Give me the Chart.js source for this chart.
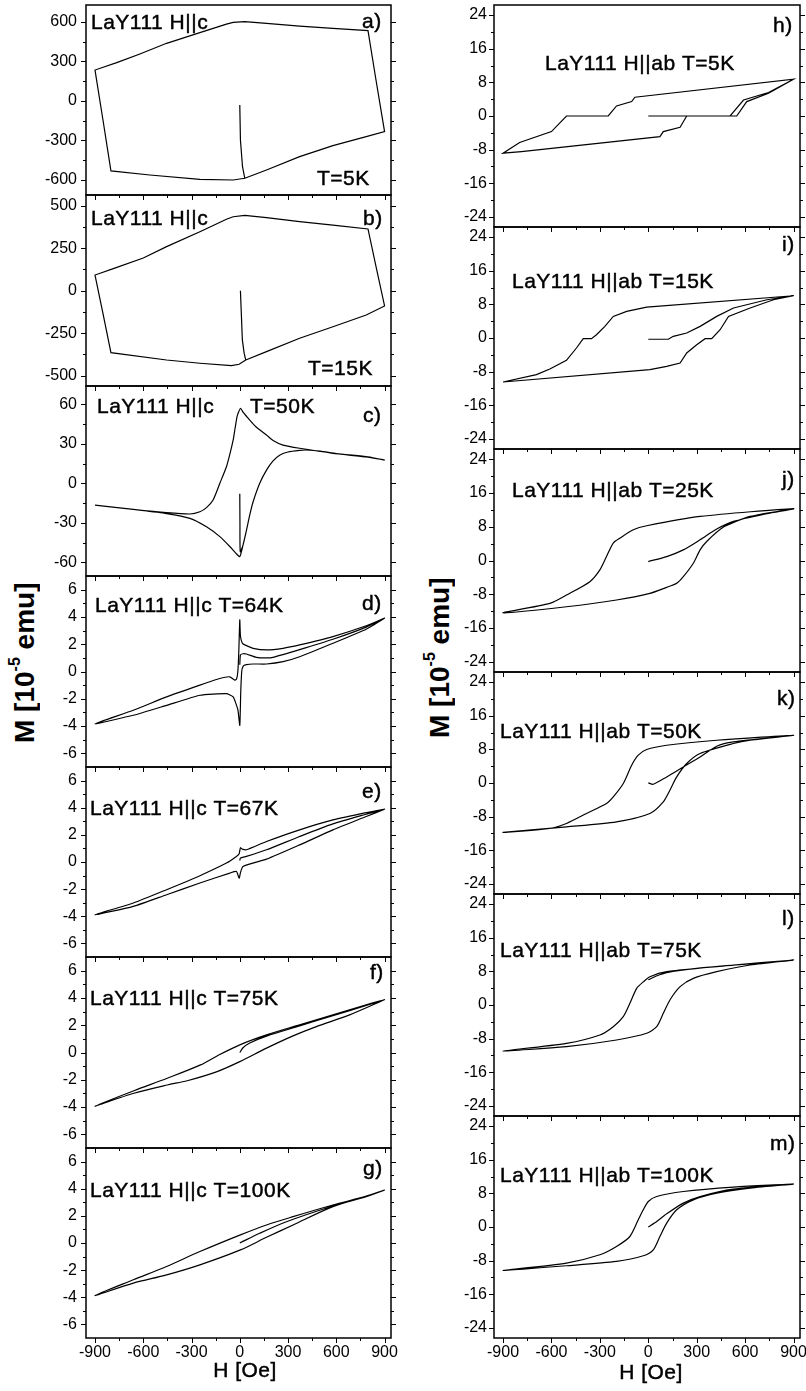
<!DOCTYPE html>
<html lang="en">
<head>
<meta charset="utf-8">
<title>LaY111 magnetization loops</title>
<script src="https://cdn.jsdelivr.net/npm/chart.js@4.4.1/dist/chart.umd.min.js"></script>
<style>
  html, body { margin: 0; padding: 0; background: #fff; }
  #page { position: relative; width: 806px; height: 1391px; overflow: hidden; background: #fff; }
  .panel { position: absolute; }
  .ytitle {
    position: absolute; height: 200px;
    writing-mode: vertical-rl; transform: rotate(180deg);
    font: bold 28px "Liberation Sans", Arial, sans-serif; line-height: 28px; color: #000;
    text-align: center; white-space: nowrap;
  }
  .ytitle sup { font-size: 16px; line-height: 0; }
</style>
</head>
<body>
<div id="page">
  <div class="ytitle" style="left: 11px; top: 563px;">M [10<sup>-5</sup> emu]</div>
  <div class="ytitle" style="left: 426px; top: 558px;">M [10<sup>-5</sup> emu]</div>
</div>
<script>
// tick values
const xMajor = [-900, -600, -300, 0, 300, 600, 900];
const xMinor = [-750, -450, -150, 150, 450, 750];
const yMajorA = [-600, -300, 0, 300, 600];
const yMinorA = [-450, -150, 150, 450];
const yMajorB = [-500, -250, 0, 250, 500];
const yMinorB = [-375, -125, 125, 375];
const yMajorC = [-60, -30, 0, 30, 60];
const yMinorC = [-45, -15, 15, 45];
const yMajorSmall = [-6, -4, -2, 0, 2, 4, 6];
const yMinorSmall = [-5, -3, -1, 1, 3, 5];
const yMajorAb = [-24, -16, -8, 0, 8, 16, 24];
const yMinorAb = [-20, -12, -4, 4, 12, 20];

// H||c loops (H in Oe, M in 1e-5 emu), each path: virgin, down branch, up branch
const fieldA = [0, 4, 17, 31, 166, 372, 579, 786, 900, 848, 797, 579, 372, 166, 31, -41, -83, -248, -455, -621, -765, -900, -850, -801, -559, -248, -41, 31];
const momentA = [-30, -296, -499, -587, -524, -423, -339, -271, -233, 150, 534, 552, 569, 590, 602, 597, 584, 519, 438, 357, 291, 235, -148, -531, -562, -595, -600, -587];

const fieldB = [4, 16, 27, 37, 166, 372, 579, 786, 900, 848, 797, 579, 372, 166, 31, -41, -83, -248, -455, -600, -786, -900, -850, -801, -455, -248, -52, -4, 37];
const momentB = [0, -290, -368, -408, -359, -280, -212, -143, -90, 137, 363, 386, 406, 430, 443, 435, 420, 347, 259, 192, 130, 92, -137, -365, -408, -427, -441, -433, -408];

const fieldC = [0, 1, 3, 20, 41, 62, 83, 124, 166, 207, 250, 300, 372, 414, 500, 600, 786, 900,
  786, 579, 372, 269, 207, 166, 100, 62, 20, 5, -8, -17, -29, -41, -62, -83, -124, -166, -207, -248, -310, -455, -662, -900,
  -662, -455, -310, -207, -124, -62, -25, 0, 20, 41, 62, 83, 124, 166, 207, 250, 300, 372, 414, 500, 600, 786, 900];
const momentC = [-8, -30, -52, -47, -36, -24, -14, 0, 10, 17, 21.5, 23.8, 25, 25.3, 24.5, 22.5, 20, 17.7,
  20.2, 22.8, 26.6, 29, 32.5, 36.7, 43, 48, 54, 57, 54, 50.6, 42, 32.9, 22, 12.6, 0, -12.7, -18.5, -21.6, -23.3, -22.3, -19.8, -16.5,
  -19.9, -23, -26.6, -33, -40.5, -48, -53, -55.7, -47, -36, -24, -14, 0, 10, 17, 21.5, 23.8, 25, 25.3, 24.5, 22.5, 20, 17.7];

const fieldD = [0, 4, 20, 41, 103, 166, 207, 372, 579, 786, 900,
  786, 579, 372, 269, 166, 83, 31, 16, 4, 0, -6, -12, -20, -31, -62, -124, -248, -455, -662, -900,
  -662, -455, -248, -83, -41, -12, 0, 6, 12, 21, 41, 83, 166, 269, 372, 579, 786, 900];
const momentD = [0.5, 1.21, 1.3, 1.28, 1.04, 1.0, 1.04, 1.6, 2.36, 3.25, 3.91,
  3.35, 2.56, 1.95, 1.7, 1.58, 1.7, 1.95, 2.07, 2.6, 3.79, 1.5, 0, -0.55, -0.63, -0.39, -0.51, -1.0, -1.86, -2.84, -3.83,
  -3.21, -2.48, -1.74, -1.62, -1.86, -2.8, -3.95, -1.5, 0, 0.4, 0.5, 0.55, 0.55, 0.72, 1.08, 2.07, 3.1, 3.91];

const fieldE = [0, 4, 41, 166, 372, 579, 786, 900,
  786, 579, 372, 166, 41, 15, 4, -4, -21, -83, -248, -455, -662, -900,
  -662, -455, -248, -62, -21, -4, 4, 20, 166, 372, 579, 786, 900];
const momentE = [0.1, 0.29, 0.41, 0.9, 1.88, 2.81, 3.52, 3.89,
  3.64, 3.1, 2.37, 1.51, 0.9, 0.95, 1.05, 0.6, 0.41, -0.08, -1.01, -2.04, -3.02, -3.88,
  -3.27, -2.41, -1.55, -0.82, -0.7, -1.19, -0.8, -0.33, 0.21, 1.26, 2.37, 3.35, 3.89];

const fieldF = [0, 20, 62, 166, 372, 579, 786, 900,
  786, 579, 372, 166, 0, -141, -244, -451, -658, -900,
  -658, -451, -327, -141, 0, 166, 331, 476, 683, 900];
const momentF = [0, 0.35, 0.7, 1.2, 1.95, 2.7, 3.45, 3.87,
  3.5, 2.76, 2.03, 1.29, 0.56, -0.25, -0.91, -1.89, -2.8, -3.93,
  -2.99, -2.38, -2.07, -1.4, -0.67, 0.32, 1.22, 1.9, 2.76, 3.87];

const fieldG = [0, 124, 290, 579, 786, 900,
  786, 579, 331, 166, 4, -248, -455, -662, -900,
  -662, -455, -248, 4, 166, 331, 579, 786, 900];
const momentG = [0, 0.72, 1.57, 2.73, 3.42, 3.9,
  3.45, 2.8, 1.94, 1.33, 0.6, -0.63, -1.73, -2.71, -3.87,
  -2.96, -2.35, -1.61, -0.51, 0.42, 1.33, 2.68, 3.41, 3.9];

// H||ab loops
const fieldH = [0, 507, 590, 745, 900,
  -83, -103, -197, -248, -507, -600, -797, -900,
  -786, 72, 93, 197, 238, 548, 610, 745, 900];
const momentH = [0, 0, 3.8, 5.6, 8.74,
  4.46, 3.43, 2.4, 0, 0, -3.7, -6.31, -8.85,
  -8.45, -4.89, -3.7, -2.67, 0, 0, 3.43, 5.41, 8.74];

const fieldI = [0, 124, 155, 238, 321, 424, 528, 735, 900,
  -10, -134, -217, -269, -321, -352, -403, -445, -507, -610, -693, -900,
  10, 114, 197, 238, 300, 352, 393, 445, 497, 631, 776, 900];
const momentI = [-0.3, -0.3, 0.4, 1.19, 2.77, 5.14, 7.13, 9.1, 10.05,
  7.36, 6.33, 5.14, 2.77, 0.79, -0.16, -0.16, -2.38, -5.31, -7.37, -8.72, -10.46,
  -7.53, -6.74, -5.94, -3.57, -1.59, -0.16, -0.16, 1.97, 5.14, 7.13, 9.1, 10.05];

const fieldJ = [0, 114, 217, 321, 424, 528, 735, 900,
  321, -10, -93, -176, -217, -259, -300, -362, -507, -610, -900,
  -507, -197, 10, 114, 176, 217, 279, 321, 362, 466, 631, 900];
const momentJ = [-0.25, 0.93, 2.52, 4.9, 7.44, 9.25, 11.07, 12.26,
  10.43, 8.22, 7.27, 5.29, 4.11, 0.93, -2.23, -5.01, -8.17, -10.15, -12.38,
  -10.95, -9.36, -7.78, -6.35, -5.4, -3.82, -0.65, 2.52, 4.5, 7.91, 10.43, 12.26];

const fieldK = [0, 31, 114, 217, 321, 424, 528, 900,
  424, 114, -10, -62, -103, -155, -217, -259, -383, -507, -610, -900,
  -507, -197, 10, 93, 134, 176, 238, 321, 528, 631, 900];
const momentK = [0.03, -0.3, 1.45, 3.83, 6.2, 8.75, 9.77, 11.36,
  10.17, 8.98, 7.96, 6.61, 4.23, -0.12, -3.3, -4.87, -7.25, -9.62, -10.81, -11.76,
  -10.43, -9.24, -7.25, -4.49, -1.71, 1.45, 4.63, 7.01, 9.39, 10.17, 11.36];

const fieldL = [0, 50, 114, 300, 528, 900,
  528, 114, 10, -31, -72, -114, -155, -217, -300, -507, -900,
  -507, -197, -10, 52, 93, 134, 197, 279, 424, 631, 900];
const momentL = [6.0, 6.9, 7.7, 8.7, 9.45, 10.69,
  9.51, 7.92, 6.73, 5.5, 3.96, 0.4, -2.77, -5.15, -7.13, -9.11, -10.93,
  -9.9, -8.32, -6.73, -5.15, -1.98, 1.19, 4.36, 6.34, 7.92, 9.51, 10.69];

const fieldM = [0, 52, 114, 217, 321, 528, 900,
  528, 217, 52, 0, -31, -62, -114, -197, -300, -507, -900,
  -507, -197, -31, 31, 72, 114, 176, 279, 424, 631, 900];
const momentM = [0, 1.31, 3.14, 5.68, 7.25, 9.0, 10.19,
  9.48, 8.44, 7.25, 6.06, 4.09, 1.71, -2.26, -4.63, -6.61, -8.59, -10.33,
  -9.22, -8.19, -6.84, -5.42, -2.26, 0.92, 4.09, 6.46, 8.05, 9.24, 10.19];

const columns = [
    { canvasLeft: 0, width: 400, axisWidth: 86, padRight: 9, tickPad: 9 },
    { canvasLeft: 400, width: 406, axisWidth: 94, padRight: 6, tickPad: 7 }
];

const panels = [
    { col: 0, top: 5, bottom: 195, field: fieldA, moment: momentA, yMin: -714, yMax: 729, yMajor: yMajorA, yMinor: yMinorA, tension: 0,
      texts: [["LaY111 H||c", 91, 29], ["a)", 362, 28], ["T=5K", 317, 185]] },
    { col: 0, top: 195, bottom: 386, field: fieldB, moment: momentB, yMin: -561, yMax: 563, yMajor: yMajorB, yMinor: yMinorB, tension: 0,
      texts: [["LaY111 H||c", 91, 225], ["b)", 363, 225], ["T=15K", 308, 375]] },
    { col: 0, top: 386, bottom: 576, field: fieldC, moment: momentC, yMin: -70.4, yMax: 73.9, yMajor: yMajorC, yMinor: yMinorC, tension: 0.2,
      texts: [["LaY111 H||c", 97, 413], ["T=50K", 250, 413], ["c)", 363, 422]] },
    { col: 0, top: 576, bottom: 767, field: fieldD, moment: momentD, yMin: -7, yMax: 7, yMajor: yMajorSmall, yMinor: yMinorSmall, tension: 0.15,
      texts: [["LaY111 H||c T=64K", 95, 612], ["d)", 362, 610]] },
    { col: 0, top: 767, bottom: 957, field: fieldE, moment: momentE, yMin: -7, yMax: 7, yMajor: yMajorSmall, yMinor: yMinorSmall, tension: 0.2,
      texts: [["LaY111 H||c T=67K", 90, 815], ["e)", 362, 798]] },
    { col: 0, top: 957, bottom: 1148, field: fieldF, moment: momentF, yMin: -7, yMax: 7, yMajor: yMajorSmall, yMinor: yMinorSmall, tension: 0.3,
      texts: [["LaY111 H||c T=75K", 90, 1005], ["f)", 370, 979]] },
    { col: 0, top: 1148, bottom: 1338, field: fieldG, moment: momentG, yMin: -7, yMax: 7, yMajor: yMajorSmall, yMinor: yMinorSmall, tension: 0.3,
      texts: [["LaY111 H||c T=100K", 90, 1197], ["g)", 363, 1175]], xLabels: true, title: ["H [Oe]", 245, 1377] },

    { col: 1, top: 5, bottom: 227, field: fieldH, moment: momentH, yMin: -26.4, yMax: 26.4, yMajor: yMajorAb, yMinor: yMinorAb, tension: 0,
      texts: [["LaY111 H||ab T=5K", 545, 70], ["h)", 773, 32]] },
    { col: 1, top: 227, bottom: 449, field: fieldI, moment: momentI, yMin: -26.4, yMax: 26.4, yMajor: yMajorAb, yMinor: yMinorAb, tension: 0,
      texts: [["LaY111 H||ab T=15K", 512, 288], ["i)", 782, 251]] },
    { col: 1, top: 449, bottom: 672, field: fieldJ, moment: momentJ, yMin: -26.4, yMax: 26.4, yMajor: yMajorAb, yMinor: yMinorAb, tension: 0.25,
      texts: [["LaY111 H||ab T=25K", 512, 497], ["j)", 782, 486]] },
    { col: 1, top: 672, bottom: 894, field: fieldK, moment: momentK, yMin: -26.4, yMax: 26.4, yMajor: yMajorAb, yMinor: yMinorAb, tension: 0.25,
      texts: [["LaY111 H||ab T=50K", 500, 738], ["k)", 777, 705]] },
    { col: 1, top: 894, bottom: 1116, field: fieldL, moment: momentL, yMin: -26.4, yMax: 26.4, yMajor: yMajorAb, yMinor: yMinorAb, tension: 0.25,
      texts: [["LaY111 H||ab T=75K", 500, 957], ["l)", 782, 925]] },
    { col: 1, top: 1116, bottom: 1338, field: fieldM, moment: momentM, yMin: -26.4, yMax: 26.4, yMajor: yMajorAb, yMinor: yMinorAb, tension: 0.25,
      texts: [["LaY111 H||ab T=100K", 500, 1182], ["m)", 770, 1150]], xLabels: true, title: ["H [Oe]", 651, 1379] }
];

Chart.defaults.font.family = '"Liberation Sans", Arial, sans-serif';
Chart.defaults.font.size = 16;
Chart.defaults.color = "#000";

function decorPlugin(p, col, canvasTop) {
    return {
        id: "decor",
        afterDraw(chart) {
            const { ctx, chartArea: area, scales } = chart;
            ctx.save();
            ctx.strokeStyle = "#000";
            ctx.lineWidth = 1;
            [[p.yMajor, 5], [p.yMinor, 3]].forEach(([values, len]) => {
                values.forEach(v => {
                    const py = Math.round(scales.y.getPixelForValue(v)) + 0.5;
                    ctx.beginPath();
                    ctx.moveTo(area.left - len, py);
                    ctx.lineTo(area.left, py);
                    ctx.moveTo(area.right, py);
                    ctx.lineTo(area.right + len, py);
                    ctx.stroke();
                });
            });
            [[xMajor, 5], [xMinor, 3]].forEach(([values, len]) => {
                values.forEach(v => {
                    const px = Math.round(scales.x.getPixelForValue(v)) + 0.5;
                    ctx.beginPath();
                    ctx.moveTo(px, area.bottom);
                    ctx.lineTo(px, area.bottom + len);
                    ctx.stroke();
                });
            });
            ctx.lineWidth = 1.5;
            ctx.strokeRect(area.left, area.top, area.right - area.left, area.bottom - area.top);

            // panel captions, slightly thickened like the scanned original
            ctx.fillStyle = "#000";
            ctx.lineWidth = 0.45;
            ctx.font = '21px "Liberation Sans", Arial, sans-serif';
            ctx.letterSpacing = "0.5px";
            ctx.textBaseline = "alphabetic";
            ctx.textAlign = "left";
            p.texts.forEach(([text, x, y]) => {
                ctx.fillText(text, x - col.canvasLeft, y - canvasTop);
                ctx.strokeText(text, x - col.canvasLeft, y - canvasTop);
            });
            if (p.title) {
                ctx.textAlign = "center";
                ctx.fillText(p.title[0], p.title[1] - col.canvasLeft, p.title[2] - canvasTop);
                ctx.strokeText(p.title[0], p.title[1] - col.canvasLeft, p.title[2] - canvasTop);
            }
            ctx.restore();
        }
    };
}

function criarPainel(p) {
    const col = columns[p.col];
    const padTop = 12;
    const bottomH = p.xLabels ? 1391 - p.bottom : 6;
    const canvasTop = p.top - padTop;
    const height = p.bottom - p.top + padTop + bottomH;

    const box = document.createElement("div");
    box.className = "panel";
    box.style.left = col.canvasLeft + "px";
    box.style.top = canvasTop + "px";
    const canvas = document.createElement("canvas");
    canvas.width = col.width;
    canvas.height = height;
    canvas.style.width = col.width + "px";
    canvas.style.height = height + "px";
    box.appendChild(canvas);
    document.getElementById("page").appendChild(box);

    new Chart(canvas, {
        type: "scatter",
        data: {
            datasets: [{
                data: p.field.map((h, i) => ({ x: h, y: p.moment[i] })),
                showLine: true,
                borderColor: "#000",
                borderWidth: 1.2,
                pointRadius: 0,
                tension: p.tension,
                fill: false
            }]
        },
        options: {
            responsive: false,
            animation: false,
            devicePixelRatio: 1,
            events: [],
            layout: { padding: { top: padTop, right: col.padRight, bottom: 0, left: 0 } },
            plugins: { legend: { display: false }, tooltip: { enabled: false } },
            scales: {
                x: {
                    type: "linear",
                    position: "bottom",
                    min: -956,
                    max: 940,
                    grid: { display: false, drawTicks: false },
                    border: { display: false },
                    ticks: { display: !!p.xLabels, padding: 5, autoSkip: false, maxRotation: 0, minRotation: 0 },
                    afterBuildTicks: s => { s.ticks = xMajor.map(v => ({ value: v })); },
                    afterFit: s => { s.height = bottomH; s.paddingLeft = 0; s.paddingRight = 0; }
                },
                y: {
                    type: "linear",
                    position: "left",
                    min: p.yMin,
                    max: p.yMax,
                    grid: { display: false, drawTicks: false },
                    border: { display: false },
                    ticks: { padding: col.tickPad, autoSkip: false },
                    afterBuildTicks: s => { s.ticks = p.yMajor.map(v => ({ value: v })); },
                    afterFit: s => { s.width = col.axisWidth; s.paddingTop = 0; s.paddingBottom = 0; }
                }
            }
        },
        plugins: [decorPlugin(p, col, canvasTop)]
    });
}

panels.forEach(criarPainel);
</script>
</body>
</html>
